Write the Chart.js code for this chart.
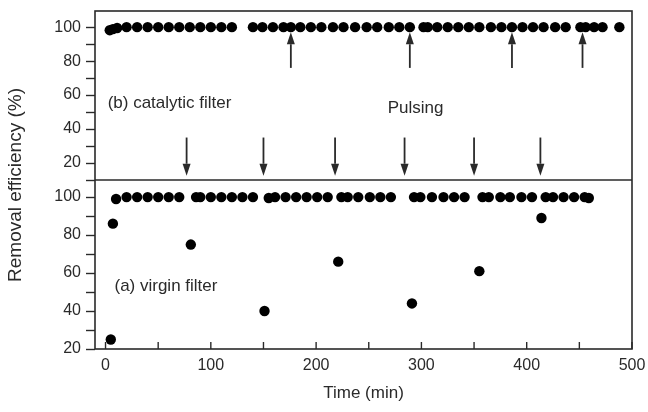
<!DOCTYPE html>
<html>
<head>
<meta charset="utf-8">
<script src="https://cdn.jsdelivr.net/npm/chart.js@4.4.1/dist/chart.umd.min.js"></script>
<style>
  body { margin: 0; background: #fff; }
</style>
</head>
<body>
<canvas id="removalChart" width="648" height="412"></canvas>
<script>
// (b) catalytic filter
const timeB = [4, 7, 11, 20, 30, 40, 50, 60, 70, 80, 90, 100, 110, 120,
  140, 149, 159, 169, 176, 185, 195, 205, 216, 226, 237, 248, 258, 269, 279, 289,
  302, 306, 315, 325, 335, 345, 355, 366, 376, 386, 396, 406, 416, 427, 437,
  451, 456, 464, 472, 488];
const effB = [98.2, 98.8, 99.5, 100, 100, 100, 100, 100, 100, 100, 100, 100, 100, 100,
  100, 100, 100, 100, 100, 100, 100, 100, 100, 100, 100, 100, 100, 100, 100, 100,
  100, 100, 100, 100, 100, 100, 100, 100, 100, 100, 100, 100, 100, 100, 100,
  100, 100, 100, 100, 100];

// (a) virgin filter
const timeA = [5, 7, 10, 20, 30, 40, 50, 60, 70,
  81, 86, 90, 100, 110, 120, 130, 140,
  151, 155, 161, 171, 181, 191, 201, 211,
  221, 224, 230, 240, 251, 261, 271,
  291, 293, 299, 310, 321, 331, 341,
  355, 358, 364, 375, 384, 395, 405,
  414, 418, 425, 435, 445, 455, 459];
const effA = [25, 86, 99, 100, 100, 100, 100, 100, 100,
  75, 100, 100, 100, 100, 100, 100, 100,
  40, 99.5, 100, 100, 100, 100, 100, 100,
  66, 100, 100, 100, 100, 100, 100,
  44, 100, 100, 100, 100, 100, 100,
  61, 100, 100, 100, 100, 100, 100,
  89, 100, 100, 100, 100, 100, 99.5];

// pulse markers
const upArrowsB = [176, 289, 386, 453];
const downArrows = [77, 150, 218, 284, 350, 413];

const fontFam = "'Liberation Sans', Arial, Helvetica, sans-serif";
const ink = '#2a2a2a';

function toPoints(xs, ys) {
  return xs.map((x, i) => ({ x: x, y: ys[i] }));
}

function arrow(ctx, px, y0, y1) {
  const dir = y1 > y0 ? 1 : -1;
  const head = 12;
  ctx.beginPath();
  ctx.moveTo(px, y0);
  ctx.lineTo(px, y1 - dir * head);
  ctx.stroke();
  ctx.beginPath();
  ctx.moveTo(px, y1);
  ctx.lineTo(px - 4, y1 - dir * head);
  ctx.lineTo(px + 4, y1 - dir * head);
  ctx.closePath();
  ctx.fill();
}

const overlay = {
  id: 'overlay',
  beforeDatasetsDraw(chart) {
    const { ctx, chartArea: a, scales } = chart;
    const x = scales.x, yB = scales.yB, yA = scales.yA;
    ctx.save();
    ctx.strokeStyle = ink;
    ctx.fillStyle = ink;
    ctx.lineWidth = 1.6;
    ctx.strokeRect(a.left, a.top, a.right - a.left, a.bottom - a.top);
    ctx.beginPath();
    ctx.moveTo(a.left, yB.bottom);
    ctx.lineTo(a.right, yB.bottom);
    ctx.stroke();

    // x ticks pointing inward
    ctx.lineWidth = 1.4;
    x.ticks.forEach(t => {
      const px = x.getPixelForValue(t.value);
      ctx.beginPath();
      ctx.moveTo(px, a.bottom);
      ctx.lineTo(px, a.bottom - 7);
      ctx.stroke();
    });

    ctx.lineWidth = 1.8;
    upArrowsB.forEach(t => arrow(ctx, x.getPixelForValue(t), yB.getPixelForValue(76), yB.getPixelForValue(97)));
    downArrows.forEach(t => arrow(ctx, x.getPixelForValue(t), yB.getPixelForValue(35), yB.getPixelForValue(12.5)));

    ctx.font = '17px ' + fontFam;
    ctx.textAlign = 'left';
    ctx.textBaseline = 'middle';
    ctx.fillText('(b) catalytic filter', x.getPixelForValue(2), yB.getPixelForValue(55.4));
    ctx.fillText('Pulsing', x.getPixelForValue(268), yB.getPixelForValue(52.5));
    ctx.fillText('(a) virgin filter', x.getPixelForValue(8.5), yA.getPixelForValue(52.8));

    ctx.translate(16, 185);
    ctx.rotate(-Math.PI / 2);
    ctx.textAlign = 'center';
    ctx.font = '19px ' + fontFam;
    ctx.fillText('Removal efficiency (%)', 0, 0);
    ctx.restore();
  }
};

function yAxis(min, max, weight) {
  return {
    type: 'linear',
    position: 'left',
    stack: 'panels',
    stackWeight: 1,
    weight: weight,
    min: min,
    max: max,
    border: { display: false },
    grid: { drawOnChartArea: false, drawTicks: true, tickLength: 9, tickColor: ink, tickWidth: 1.4 },
    ticks: {
      stepSize: 10,
      includeBounds: false,
      autoSkip: false,
      padding: 5,
      color: ink,
      font: { family: fontFam, size: 16 },
      callback: v => (v % 20 === 0 ? v : '')
    },
    afterFit: s => {
      s.width = 95;
      s.paddingTop = 0;
      s.paddingBottom = 0;
    }
  };
}

const ctx = document.getElementById('removalChart');
new Chart(ctx, {
  type: 'scatter',
  data: {
    datasets: [
      {
        data: toPoints(timeB, effB),
        xAxisID: 'x', yAxisID: 'yB',
        pointRadius: 5.2, pointBackgroundColor: '#000', pointBorderWidth: 0
      },
      {
        data: toPoints(timeA, effA),
        xAxisID: 'x', yAxisID: 'yA',
        pointRadius: 5.2, pointBackgroundColor: '#000', pointBorderWidth: 0
      }
    ]
  },
  options: {
    responsive: false,
    animation: false,
    layout: { padding: { top: 11, right: 16, left: 0, bottom: 0 } },
    plugins: { legend: { display: false }, tooltip: { enabled: false } },
    scales: {
      x: {
        type: 'linear',
        position: 'bottom',
        min: -10,
        max: 500,
        border: { display: false },
        grid: { drawOnChartArea: false, drawTicks: false },
        ticks: {
          stepSize: 50,
          includeBounds: false,
          autoSkip: false,
          maxRotation: 0,
          padding: 7,
          color: ink,
          font: { family: fontFam, size: 16 },
          callback: v => (v % 100 === 0 ? v : '')
        },
        title: {
          display: true,
          text: 'Time (min)',
          color: ink,
          font: { family: fontFam, size: 17 },
          padding: { top: 0, bottom: 8 }
        },
        afterFit: s => {
          s.height = 63;
          s.paddingLeft = 0;
          s.paddingRight = 0;
        }
      },
      yB: yAxis(10, 109.5, 2),
      yA: yAxis(20, 109, 1)
    }
  },
  plugins: [overlay]
});
</script>
</body>
</html>
